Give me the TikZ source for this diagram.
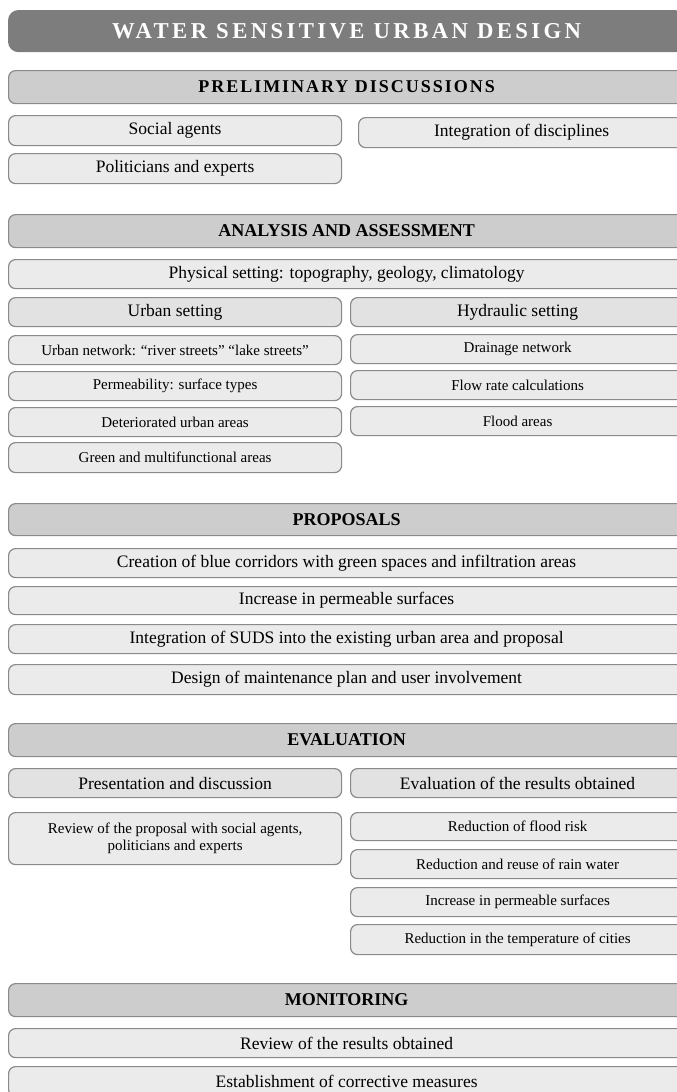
\documentclass[tikz,border=0pt]{standalone}
\usepackage{fontspec}
\setmainfont{Liberation Serif}
\definecolor{titlegray}{HTML}{7D7D7D}
\definecolor{headgray}{HTML}{CDCDCD}
\definecolor{subgray}{HTML}{E2E2E2}
\definecolor{itemgray}{HTML}{EBEBEB}
\definecolor{edgegray}{HTML}{8A8A8A}
\begin{document}
\begin{tikzpicture}[x=1pt,y=-1pt,
  box/.style={draw=edgegray,line width=1.2pt,rounded corners=7pt,anchor=north west,inner sep=0pt,align=center},
  title/.style={box,fill=titlegray,draw=titlegray,rounded corners=10pt,text=white,
    font=\fontsize{22.7}{26}\selectfont\bfseries\addfontfeature{LetterSpace=15}},
  head/.style={box,fill=headgray,font=\fontsize{18}{21}\selectfont\bfseries},
  sub/.style={box,fill=subgray,font=\fontsize{17.5}{20}\selectfont},
  item/.style={box,fill=itemgray,font=\fontsize{17.5}{20}\selectfont},
  small/.style={box,fill=itemgray,font=\fontsize{15}{17}\selectfont}]
  \useasboundingbox (0,0) rectangle (677,1092);
  \clip (0,0) rectangle (677,1092);
  \node[title,minimum width=676pt,minimum height=41pt] (title) at (8,10) {WATER SENSITIVE URBAN DESIGN};

  \node[head,minimum width=676pt,minimum height=33pt,font=\fontsize{18}{21}\selectfont\bfseries\addfontfeature{LetterSpace=11}] (prelim) at (8,70) {PRELIMINARY DISCUSSIONS};
  \node[item,minimum width=333pt,minimum height=30pt] (social) at (8,115) {Social agents};
  \node[item,minimum width=326pt,minimum height=30pt] (integ) at (358,117) {Integration of disciplines};
  \node[item,minimum width=333pt,minimum height=30pt] (polit) at (8,153) {Politicians and experts};

  \node[head,minimum width=676pt,minimum height=33pt] (analysis) at (8,214) {ANALYSIS AND ASSESSMENT};
  \node[item,minimum width=676pt,minimum height=29pt] (physical) at (8,259) {Physical setting: topography, geology, climatology};
  \node[sub,minimum width=333pt,minimum height=29pt] (urban) at (8,297) {Urban setting};
  \node[sub,minimum width=334pt,minimum height=29pt] (hydraulic) at (350,297) {Hydraulic setting};
  \node[small,minimum width=333pt,minimum height=29pt] (network) at (8,335) {Urban network: “river streets” “lake streets”};
  \node[small,minimum width=334pt,minimum height=29pt] (drainage) at (350,334) {Drainage network};
  \node[small,minimum width=333pt,minimum height=29pt] (perm) at (8,371) {Permeability: surface types};
  \node[small,minimum width=334pt,minimum height=29pt] (flow) at (350,370) {Flow rate calculations};
  \node[small,minimum width=333pt,minimum height=29pt] (deter) at (8,407) {Deteriorated urban areas};
  \node[small,minimum width=334pt,minimum height=29pt] (flood) at (350,406) {Flood areas};
  \node[small,minimum width=333pt,minimum height=30pt] (green) at (8,442) {Green and multifunctional areas};

  \node[head,minimum width=676pt,minimum height=32pt] (proposals) at (8,503) {PROPOSALS};
  \node[item,minimum width=676pt,minimum height=29pt] (corridors) at (8,548) {Creation of blue corridors with green spaces and infiltration areas};
  \node[item,minimum width=676pt,minimum height=28pt] (permsurf) at (8,586) {Increase in permeable surfaces};
  \node[item,minimum width=676pt,minimum height=29pt] (suds) at (8,624) {Integration of SUDS into the existing urban area and proposal};
  \node[item,minimum width=676pt,minimum height=30pt] (maint) at (8,664) {Design of maintenance plan and user involvement};

  \node[head,minimum width=676pt,minimum height=33pt] (evaluation) at (8,723) {EVALUATION};
  \node[sub,minimum width=333pt,minimum height=29pt] (present) at (8,768) {Presentation and discussion};
  \node[sub,minimum width=334pt,minimum height=29pt] (results) at (350,768) {Evaluation of the results obtained};
  \node[small,minimum width=333pt,minimum height=52pt] (reviewprop) at (8,812) {Review of the proposal with social agents,\\politicians and experts};
  \node[small,minimum width=334pt,minimum height=28pt] (floodrisk) at (350,812) {Reduction of flood risk};
  \node[small,minimum width=334pt,minimum height=29pt] (rainwater) at (350,849) {Reduction and reuse of rain water};
  \node[small,minimum width=334pt,minimum height=29pt] (incperm) at (350,887) {Increase in permeable surfaces};
  \node[small,minimum width=334pt,minimum height=30pt] (temp) at (350,924) {Reduction in the temperature of cities};

  \node[head,minimum width=676pt,minimum height=33pt] (monitoring) at (8,983) {MONITORING};
  \node[item,minimum width=676pt,minimum height=29pt] (reviewres) at (8,1028) {Review of the results obtained};
  \node[item,minimum width=676pt,minimum height=30pt] (corrective) at (8,1066) {Establishment of corrective measures};
\end{tikzpicture}
\end{document}
